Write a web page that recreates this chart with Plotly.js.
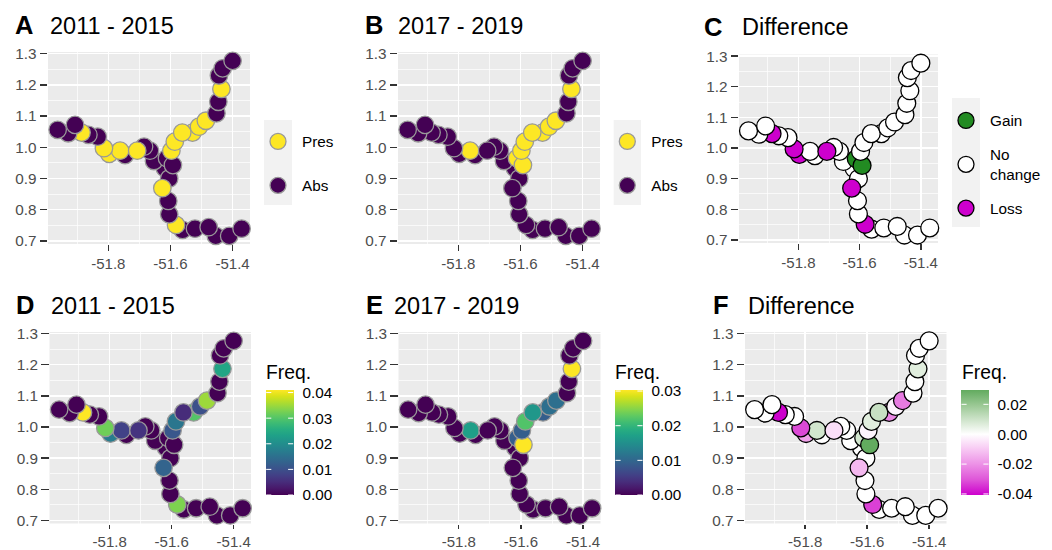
<!DOCTYPE html>
<html><head><meta charset="utf-8">
<script src="https://cdn.plot.ly/plotly-3.0.1.min.js"></script>
<style>html,body{margin:0;padding:0;background:#fff}</style></head>
<body><div id="chart" style="width:1052px;height:550px"></div>
<script>
const lon=[-51.963,-51.929,-51.907,-51.886,-51.864,-51.834,-51.814,-51.797,-51.762,-51.746,-51.707,-51.685,-51.666,-51.653,-51.618,-51.611,-51.592,-51.604,-51.626,-51.607,-51.604,-51.582,-51.561,-51.521,-51.477,-51.454,-51.411,-51.371,-51.452,-51.446,-51.436,-51.444,-51.432,-51.400,-51.486,-51.508,-51.529,-51.562,-51.586,-51.597];
const lat=[1.056,1.045,1.072,1.047,1.040,1.034,0.997,0.979,0.989,0.975,0.989,1.002,0.989,0.956,0.933,0.965,0.943,0.900,0.869,0.828,0.785,0.751,0.735,0.739,0.744,0.716,0.716,0.739,1.109,1.146,1.187,1.230,1.253,1.277,1.085,1.066,1.047,1.047,1.018,0.989];
const presA=["Abs","Abs","Abs","Pres","Abs","Abs","Pres","Pres","Pres","Abs","Pres","Abs","Abs","Abs","Abs","Abs","Abs","Abs","Pres","Abs","Abs","Pres","Abs","Abs","Abs","Abs","Abs","Abs","Abs","Abs","Pres","Abs","Abs","Abs","Pres","Pres","Pres","Pres","Pres","Pres"];
const presB=["Abs","Abs","Abs","Abs","Abs","Abs","Abs","Abs","Pres","Abs","Abs","Abs","Abs","Abs","Abs","Pres","Pres","Abs","Abs","Abs","Abs","Abs","Abs","Abs","Abs","Abs","Abs","Abs","Abs","Abs","Pres","Abs","Abs","Abs","Pres","Pres","Pres","Pres","Pres","Pres"];
const change=["No change","No change","No change","Loss","No change","No change","Loss","Loss","No change","No change","Loss","No change","No change","No change","No change","Gain","Gain","No change","Loss","No change","No change","Loss","No change","No change","No change","No change","No change","No change","No change","No change","No change","No change","No change","No change","No change","No change","No change","No change","No change","No change"];
const freqA=[0,0,0,0.041,0,0,0.032,0.017,0.008,0,0.006,0,0,0,0,0,0,0,0.013,0,0,0.033,0,0,0,0,0,0,0,0,0.024,0,0,0,0.035,0.010,0.030,0.005,0.016,0.011];
const freqB=[0,0,0,0,0,0,0,0,0.017,0,0,0,0,0,0,0.009,0.0303,0,0,0,0,0,0,0,0,0,0,0,0,0,0.0303,0,0,0,0.011,0.011,0.009,0.016,0.022,0.009];
const freqDiff=[0,0,0,-0.0407,0,0,-0.032,-0.017,0.009,0,-0.006,0,0,0,0,0.009,0.0296,0,-0.013,0,0,-0.033,0,0,0,0,0,0,0,0,0.006,0,0,0,-0.024,-0.002,-0.022,0.011,0.006,-0.002];
const drawOrder=[26,27,23,24,28,25,22,21,20,15,18,19,14,16,17,10,8,9,13,12,11,40,7,39,6,5,4,37,38,2,1,3,36,35,29,30,31,32,33,34];
const xTickVals=[-51.8,-51.6,-51.4], xTickText=["-51.8","-51.6","-51.4"], xMinor=[-51.9,-51.7,-51.5];
const yTickVals=[0.7,0.8,0.9,1.0,1.1,1.2,1.3], yTickText=["0.7","0.8","0.9","1.0","1.1","1.2","1.3"], yMinor=[0.75,0.85,0.95,1.05,1.15,1.25];
const presColors={Pres:"#FDE725",Abs:"#440154"};
const changeColors={Gain:"#228B22","No change":"#FFFFFF",Loss:"#CD00CD"};
const diffScale=[[0,"#CD00CD"],[0.145,"#DE55D8"],[0.29,"#EC90E6"],[0.435,"#F7C8F3"],[0.579,"#FFFFFF"],[0.72,"#CDE3C9"],[0.86,"#98C792"],[1,"#62AB5F"]];

const pick=a=>drawOrder.map(i=>a[i-1]);
const W=1052,H=550, px=x=>x/W, py=y=>1-y/H;
const panels=[
 {id:"",  box:[48,250,52,244], letter:"A", lx:15, title:"2011 - 2015", tx:50, by:32.5, xlen:6},
 {id:"2", box:[398,600,52,244], letter:"B", lx:365, title:"2017 - 2019", tx:398, by:32.5, xlen:6},
 {id:"3", box:[739,938,54.5,243], letter:"C", lx:704, title:"Difference", tx:741.5, by:34, xlen:6},
 {id:"4", box:[49.5,251,332,523.5], letter:"D", lx:16, title:"2011 - 2015", tx:51, by:312.5, xlen:4.5},
 {id:"5", box:[398.5,600.5,332,523.5], letter:"E", lx:365.5, title:"2017 - 2019", tx:394, by:312.5, xlen:4.5},
 {id:"6", box:[745,946.5,332,523.5], letter:"F", lx:713, title:"Difference", tx:748, by:312.5, xlen:4.5}
];
const layout={width:W,height:H,margin:{l:0,r:0,t:0,b:0},paper_bgcolor:"#fff",plot_bgcolor:"#EBEBEB",
 font:{family:"Liberation Sans, Arial, sans-serif"},showlegend:true,annotations:[],shapes:[]};
const txt=(x,base,t,size,color,bold,anchor)=>({xref:"paper",yref:"paper",x:px(x),y:py(base+size*0.27),xanchor:anchor||"left",yanchor:"bottom",showarrow:false,
  text:bold?"<b>"+t+"</b>":t,font:{family:"Liberation Sans, Arial, sans-serif",size:size,color:color||"#000"},borderpad:0,borderwidth:0});
panels.forEach(p=>{
 const ax=(vals,text,minor,dom,rng,anchor,len,size)=>({domain:dom,range:rng,anchor:anchor,autorange:false,fixedrange:true,tickmode:"array",tickvals:vals,ticktext:text,
   showgrid:true,gridcolor:"#FFFFFF",gridwidth:1.4,zeroline:false,showline:false,ticks:"outside",ticklen:len,tickwidth:1.4,tickcolor:"#333333",
   tickfont:{size:size,color:"#4D4D4D"},minor:{tickmode:"array",tickvals:minor,showgrid:true,gridcolor:"#FFFFFF",gridwidth:0.7,ticks:""}});
 layout["xaxis"+p.id]=ax(xTickVals,xTickText,xMinor,[px(p.box[0]),px(p.box[1])],[-51.994,-51.344],"y"+p.id,p.xlen,15);
 layout["yaxis"+p.id]=ax(yTickVals,yTickText,yMinor,[py(p.box[3]),py(p.box[2])],[0.690,1.3054],"x"+p.id,7.5,15.3);
 layout.annotations.push(txt(p.lx,p.by,p.letter,25.5,"#000",true));
 layout.annotations.push(txt(p.tx,p.by,p.title,23.5,"#000",false));
});
const GREY="#999999",BLK="#000000",MS=17.5;
const pt=(id,color,line,size,extra)=>Object.assign({type:"scatter",mode:"markers",cliponaxis:false,x:pick(lon),y:pick(lat),xaxis:"x"+id,yaxis:"y"+id,showlegend:false,hoverinfo:"skip",
  marker:Object.assign({size:size,color:color,line:{color:line,width:1.3}},extra||{})});
const cbar=(x,ticks,labels)=>({x:px(x),xanchor:"left",xpad:0,ypad:0,y:py(495),yanchor:"bottom",len:105,lenmode:"pixels",thickness:28,thicknessmode:"pixels",outlinewidth:0,borderwidth:0,
  tickmode:"array",tickvals:ticks,ticktext:labels,ticks:"outside",ticklen:6,tickwidth:1,tickcolor:"rgba(0,0,0,0)",tickfont:{size:15.3,color:"#000"}});
const colorA=pick(presA).map(k=>presColors[k]),colorB=pick(presB).map(k=>presColors[k]),colorC=pick(change).map(k=>changeColors[k]);
const tickA=[0,0.01,0.02,0.03,0.04],tickB=[0,0.01,0.02,0.03],tickF=[-0.04,-0.02,0,0.02];
const traces=[
 pt("",colorA,GREY,MS),
 pt("2",colorB,GREY,MS),
 pt("3",colorC,BLK,MS+0.4),
 pt("4",pick(freqA),GREY,MS,{colorscale:"Viridis",cmin:0,cmax:0.041,colorbar:cbar(265.7,tickA,["0.00","0.01","0.02","0.03","0.04"])}),
 pt("5",pick(freqB),GREY,MS,{colorscale:"Viridis",cmin:0,cmax:0.0303,colorbar:cbar(615,tickB,["0.00","0.01","0.02","0.03"])}),
 pt("6",pick(freqDiff),BLK,MS+0.4,{colorscale:diffScale,cmin:-0.0407,cmax:0.0296,colorbar:cbar(961,tickF,["-0.04","-0.02","0.00","0.02"])})
];
[["Freq.",265.7,378],["Freq.",615,378],["Freq.",961.5,378]].forEach(f=>layout.annotations.push(txt(f[1],f[2],f[0],19.3)));
const barTick=(x,y,dx)=>({xref:"paper",yref:"paper",x:px(x),y:py(y),ax:dx,ay:0,axref:"pixel",ayref:"pixel",text:" ",font:{size:1},borderpad:0,showarrow:true,arrowhead:0,arrowwidth:1,arrowcolor:"#FFFFFF",standoff:0,startstandoff:0});
[[265.7,tickA,0,0.041],[615,tickB,0,0.0303],[961,tickF,-0.0407,0.0296]].forEach(b=>b[1].forEach(v=>{
  const y=495-105*(v-b[2])/(b[3]-b[2]);
  layout.annotations.push(barTick(b[0]+5.6,y,-5.6),barTick(b[0]+22.4,y,5.6));
}));
const legendItem=(name,color,line,leg)=>({type:"scatter",mode:"markers",x:[null],y:[null],xaxis:"x",yaxis:"y",name:name,legend:leg,legendgroup:leg+name,showlegend:true,hoverinfo:"skip",
  marker:{size:16,color:color,line:{color:line,width:1.3}}});
traces.push(legendItem("Pres",presColors.Pres,GREY,"legend"),legendItem("Abs",presColors.Abs,GREY,"legend"),
 legendItem("Pres",presColors.Pres,GREY,"legend2"),legendItem("Abs",presColors.Abs,GREY,"legend2"),
 legendItem("Gain",changeColors.Gain,BLK,"legend3"),legendItem("No<br>change",changeColors["No change"],BLK,"legend3"),legendItem("Loss",changeColors.Loss,BLK,"legend3"));
const leg=(x,y,gap)=>({x:px(x),y:py(y),xanchor:"left",yanchor:"top",bgcolor:"rgba(0,0,0,0)",borderwidth:0,itemsizing:"trace",itemwidth:38,tracegroupgap:gap,font:{size:15.3,color:"#000"},itemclick:false,itemdoubleclick:false,traceorder:"grouped"});
layout.legend=leg(254,125,21);
layout.legend2=leg(603.3,125,21);
layout.legend3=leg(942,104,11);
[[264,292,120,205],[613.7,641,120,205],[952,980,98,227]].forEach(b=>layout.shapes.push({type:"rect",xref:"paper",yref:"paper",x0:px(b[0]),x1:px(b[1]),y0:py(b[3]),y1:py(b[2]),fillcolor:"#F2F2F2",line:{width:0},layer:"below"}));
Plotly.newPlot("chart",traces,layout,{staticPlot:true,displayModeBar:false});
</script></body></html>
